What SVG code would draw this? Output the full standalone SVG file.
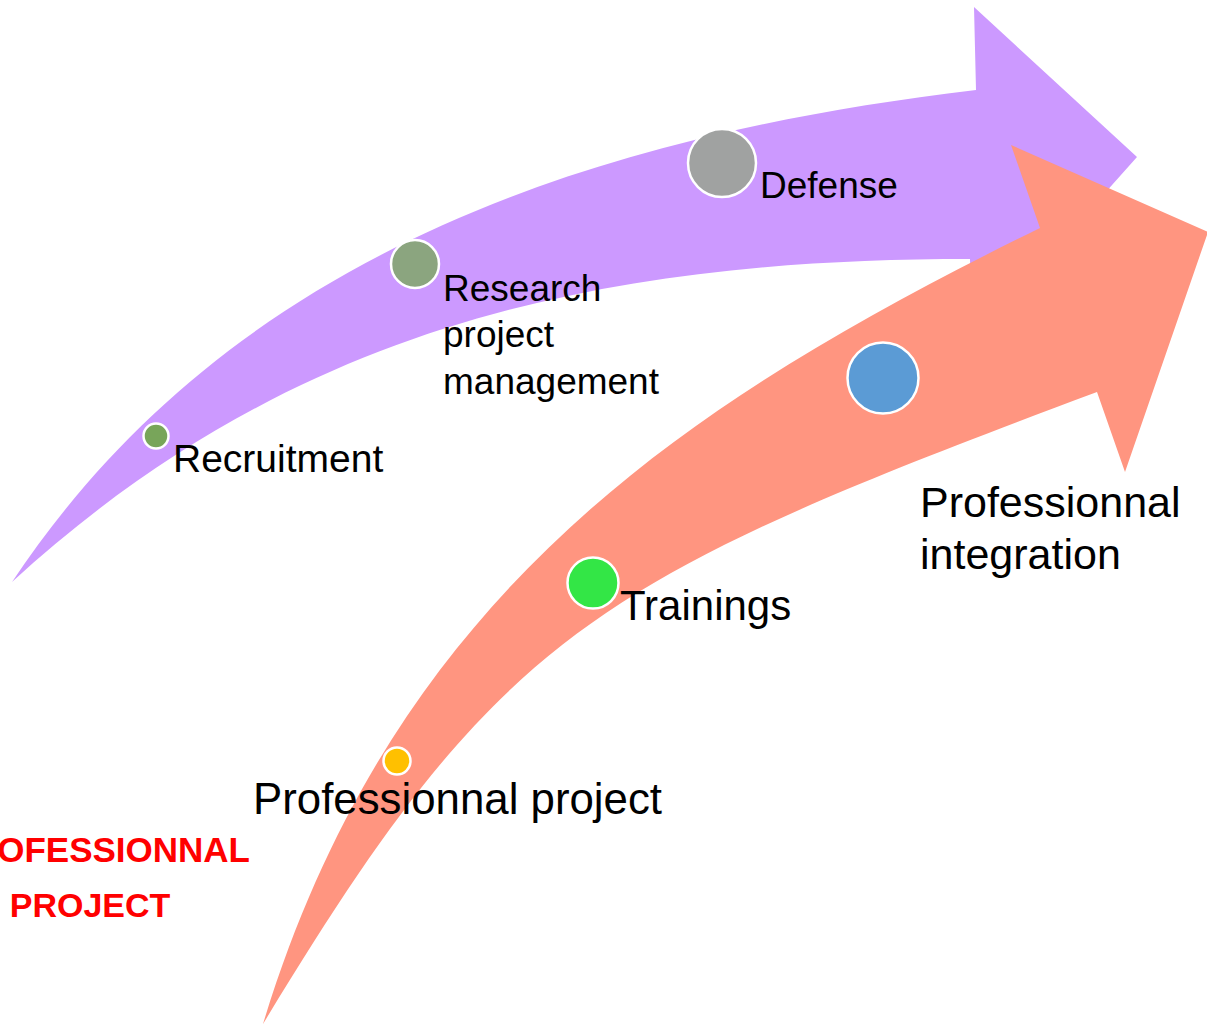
<svg xmlns="http://www.w3.org/2000/svg" width="1207" height="1026" viewBox="0 0 1207 1026">
<style>
.lbl{font-family:"Liberation Sans",Arial,sans-serif;fill:#000}
.dot{stroke:#fff;stroke-width:2.5}
.red{font-family:"Liberation Sans",Arial,sans-serif;font-weight:bold;fill:#ff0000}
</style>
<rect width="1207" height="1026" fill="#fff"/>
<g id="arrows">
<path id="arrow-purple" fill="#cc99ff" d="M12,582 C194,309 492,147 976,90 L974,7 L1137,157 L972,342 L970,259 C606,259 293,324 12,582 Z"/>
<path id="arrow-orange" fill="#ff9580" d="M263,1024 C395,590 690,400 1040,228 L1011,145 L1208,232 L1125,472 L1097,392 C592,581 500,632 263,1024 Z"/>
</g>
<g id="node-recruitment">
<circle class="dot" cx="156" cy="436" r="12.5" fill="#78a55a"/>
<text class="lbl" x="173" y="472" font-size="39">Recruitment</text>
</g>
<g id="node-research">
<circle class="dot" cx="415" cy="264" r="24" fill="#8ba57f"/>
<text class="lbl" font-size="37"><tspan x="443" y="301">Research</tspan><tspan x="443" y="347">project</tspan><tspan x="443" y="394">management</tspan></text>
</g>
<g id="node-defense">
<circle class="dot" cx="722" cy="163" r="34" fill="#a0a2a1"/>
<text class="lbl" x="760" y="198" font-size="37">Defense</text>
</g>
<g id="node-professional-project">
<circle class="dot" cx="397" cy="761" r="13.5" fill="#ffc000"/>
<text class="lbl" x="253" y="814" font-size="43.8">Professionnal project</text>
</g>
<g id="node-trainings">
<circle class="dot" cx="593" cy="583" r="25.5" fill="#33e646"/>
<text class="lbl" x="620" y="620" font-size="42">Trainings</text>
</g>
<g id="node-integration">
<circle class="dot" cx="883" cy="378" r="35.5" fill="#5b9bd5"/>
<text class="lbl" font-size="43"><tspan x="920" y="517">Professionnal</tspan><tspan x="920" y="569">integration</tspan></text>
</g>
<g id="title">
<text class="red" font-size="35" text-anchor="end" x="250" y="862">PROFESSIONNAL</text>
<text class="red" font-size="34" text-anchor="middle" x="90" y="917">PROJECT</text>
</g>
</svg>
